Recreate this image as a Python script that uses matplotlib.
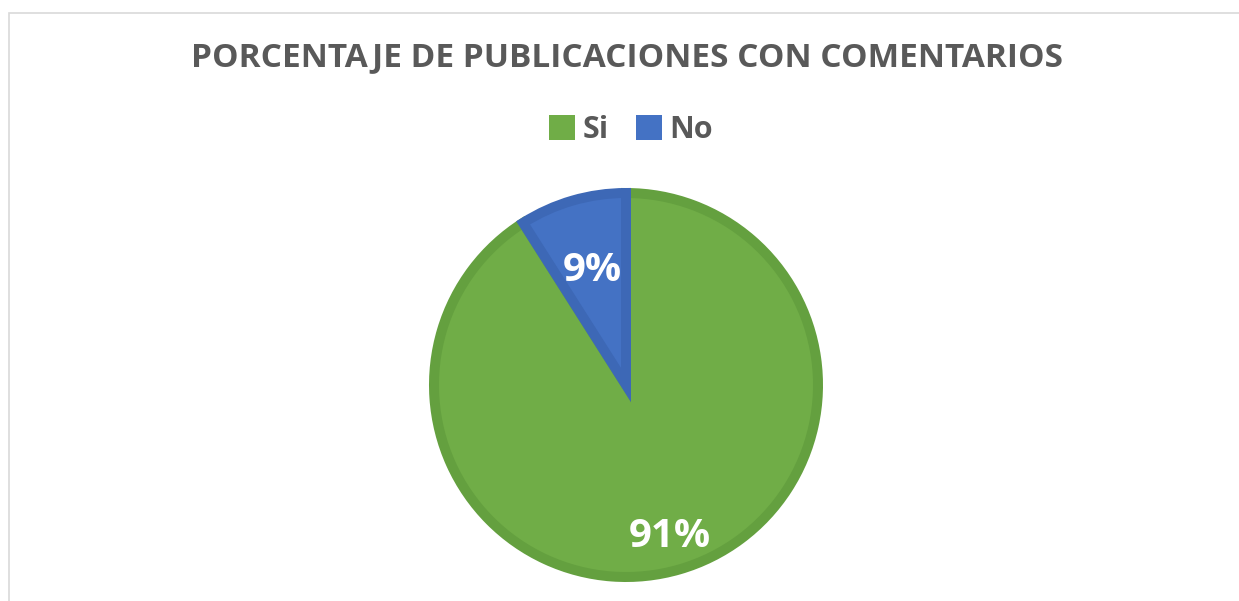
import numpy as np
import matplotlib
matplotlib.use("Agg")
import matplotlib.pyplot as plt
from matplotlib.patches import Rectangle, Patch

# ── data ──
categories = ['Si', 'No']
values = [91, 9]
labels = ['91%', '9%']
face_colors = ['#70AD47', '#4472C4']
edge_colors = ['#64A03F', '#3D68B6']
label_dist = [0.82, 0.62]

W, H = 1239, 601
plt.rcParams['font.family'] = ['Open Sans', 'DejaVu Sans']

fig = plt.figure(figsize=(W / 100, H / 100), dpi=100)
ax = fig.add_axes([0, 0, 1, 1])

# chart frame
ax.add_patch(Rectangle((9, -10), W, H - 13 + 10, fill=False,
                       edgecolor='#D9D9D9', linewidth=1.2))

cx, cy, r = 626, H - 385, 192
wedges, _ = ax.pie(values, colors=face_colors, startangle=90, counterclock=False,
                   center=(cx, cy), radius=r, frame=True,
                   wedgeprops=dict(linewidth=7.2))
for w, ec in zip(wedges, edge_colors):
    w.set_edgecolor(ec)
ax.set_xlim(0, W)
ax.set_ylim(0, H)
ax.set_aspect('equal')
ax.axis('off')

# labels inside wedges
for w, lab, d in zip(wedges, labels, label_dist):
    ang = np.deg2rad((w.theta1 + w.theta2) / 2)
    ax.text(cx + d * r * np.cos(ang), cy + d * r * np.sin(ang), lab,
            ha='center', va='center', color='white', fontsize=29, fontweight='bold')

fig.text(627 / W, 1 - 58 / H, 'PORCENTAJE DE PUBLICACIONES CON COMENTARIOS',
         ha='center', va='center', fontsize=24, fontweight='bold', color='#595959')

handles = [Patch(facecolor=c, edgecolor='none') for c in face_colors]
leg = fig.legend(handles, categories, loc='center', bbox_to_anchor=(631 / W, 1 - 130 / H),
                 ncol=2, frameon=False, handlelength=0.85, handleheight=0.85,
                 handletextpad=0.25, columnspacing=0.9,
                 prop=dict(size=22, weight='bold'))
for t in leg.get_texts():
    t.set_color('#595959')

fig.savefig('out.png', dpi=100)
